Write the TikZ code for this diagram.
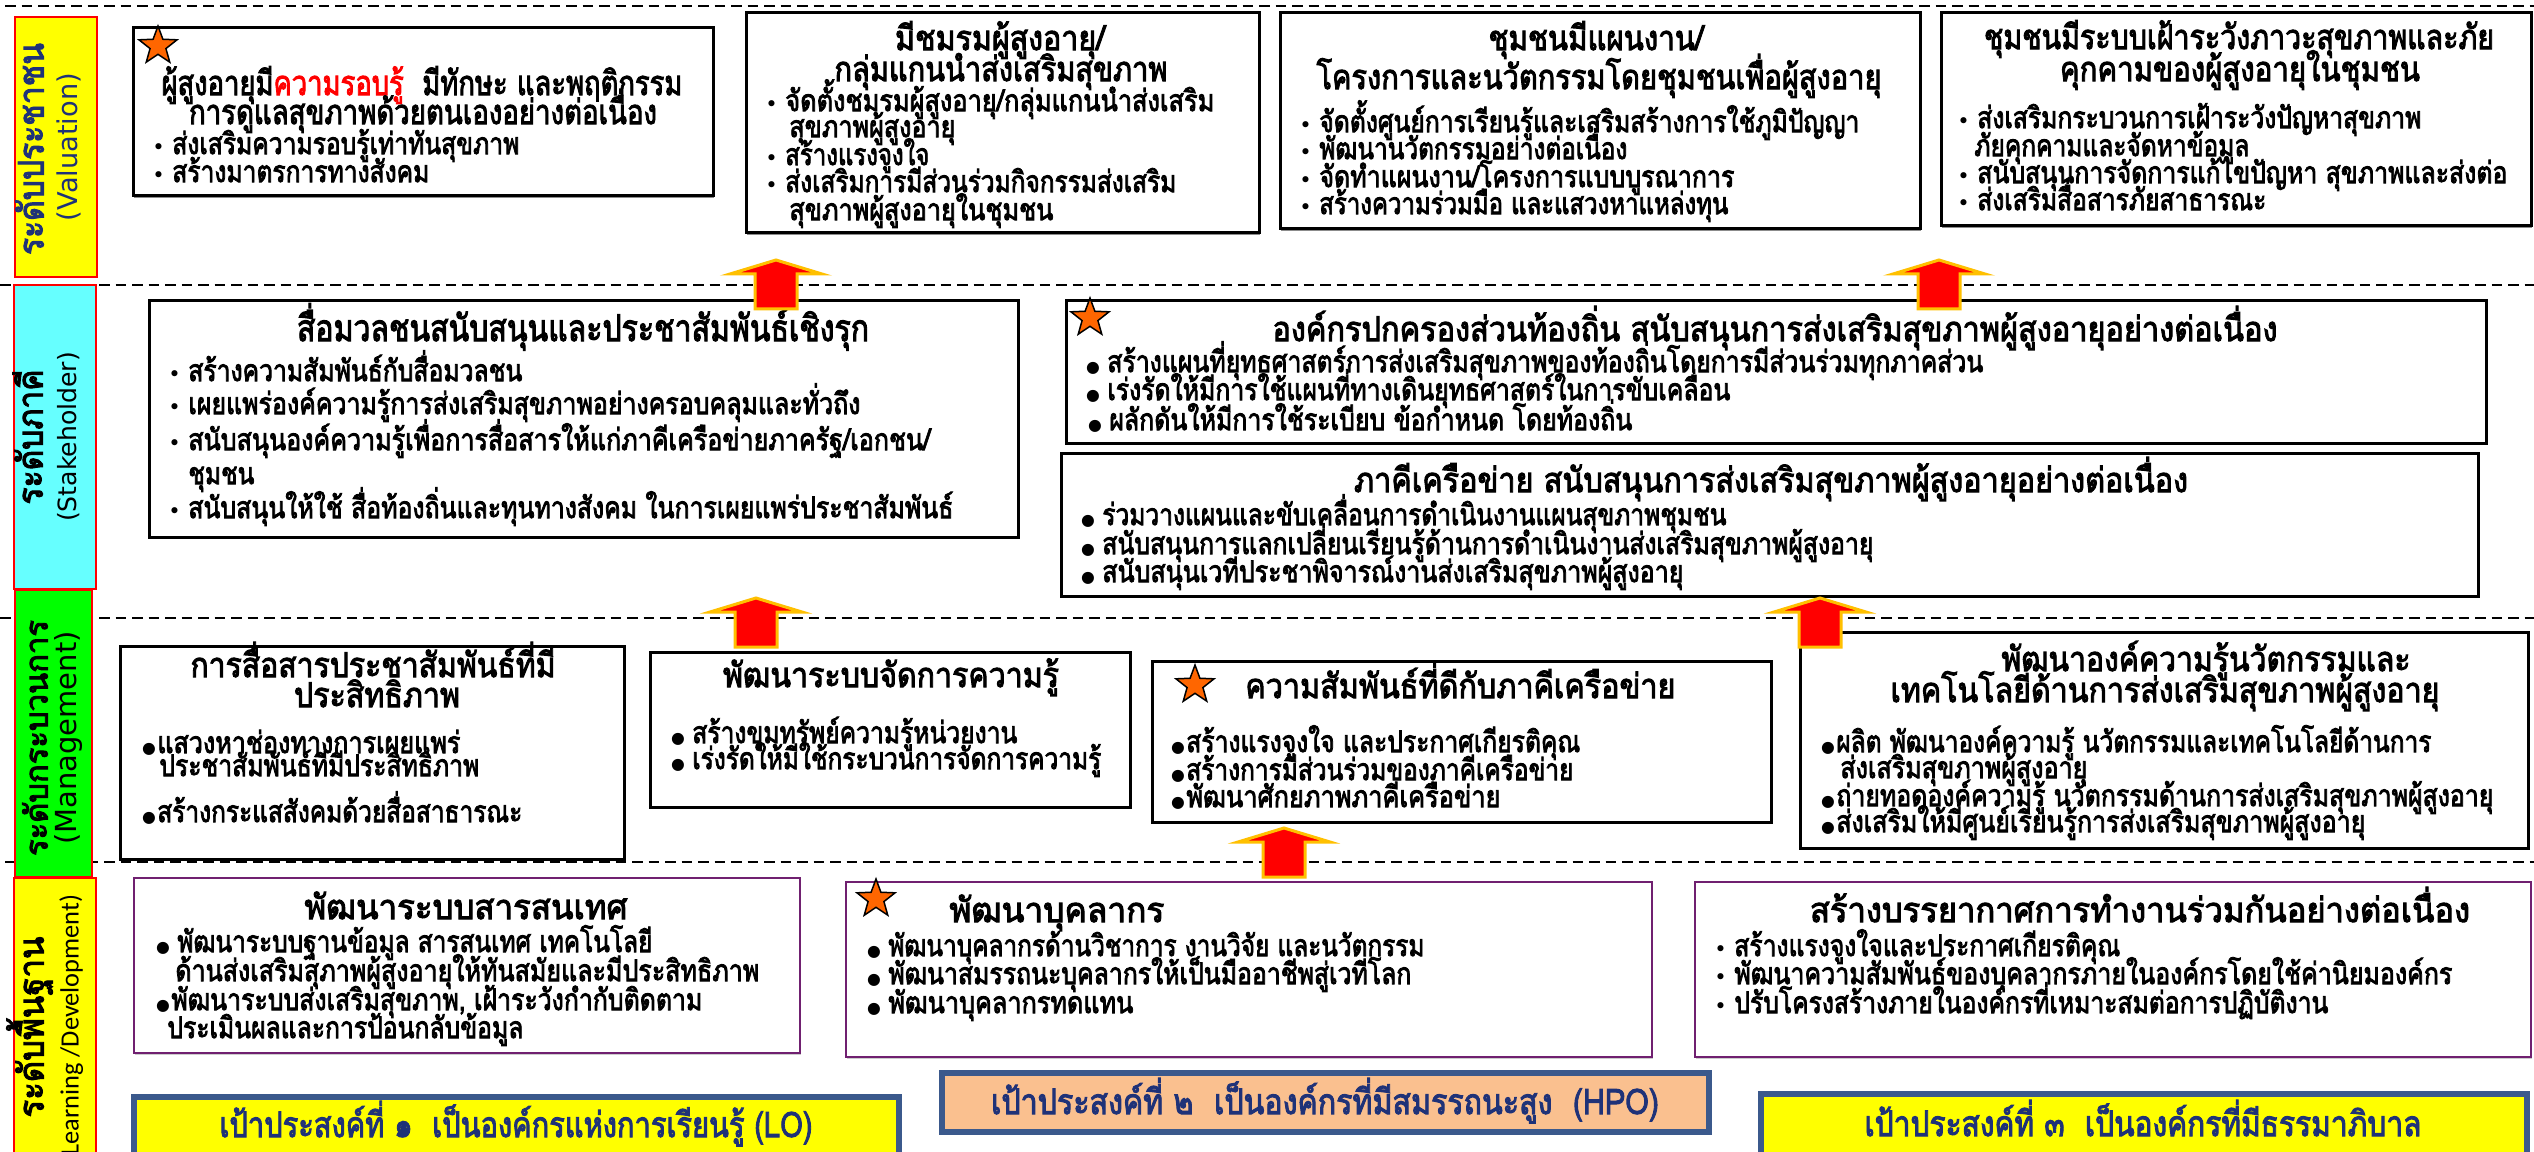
\documentclass[tikz,border=0pt]{standalone}
\usepackage{fontspec}
\usepackage{graphicx}
\setmainfont{Loma}[Script=Thai]
\newfontfamily\thB{Loma}[Script=Thai,FakeBold=3]
\newfontfamily\dvs{DejaVu Sans}
\newfontfamily\crl{Carlito}
\usetikzlibrary{shapes.geometric,fit,shadows}
\definecolor{navy}{RGB}{31,50,120}
\definecolor{bandyel}{RGB}{255,255,0}
\definecolor{bandcyan}{RGB}{102,255,255}
\definecolor{bandgreen}{RGB}{0,255,0}
\definecolor{purp}{RGB}{112,32,112}
\definecolor{goalb}{RGB}{59,89,140}
\definecolor{peach}{RGB}{250,192,143}
\definecolor{gold}{RGB}{255,192,0}
\definecolor{starorange}{RGB}{255,102,0}
\newdimen\pxu \pxu=0.2mm
\newcounter{lnc}
\newcommand\blt{\llap{{\dvs\fontsize{12}{12}\selectfont •}\hspace{1.5mm}}}
\newcommand\bbl{\llap{{\dvs\fontsize{9}{9}\selectfont ●}\hspace{0.3mm}}}
\newcommand\bblw{\llap{{\dvs\fontsize{9}{9}\selectfont ●}\hspace{1.5mm}}}
% plain line / line with bullet kinds
\newcommand\TL[5]{\stepcounter{lnc}\node[#1] (ln\arabic{lnc}) at (#2,#3) {\resizebox{#4\pxu}{\height}{#5}};}
\newcommand\TB[5]{\stepcounter{lnc}\node[#1] (ln\arabic{lnc}) at (#2,#3) {\blt\resizebox{#4\pxu}{\height}{#5}};}
\newcommand\TC[5]{\stepcounter{lnc}\node[#1] (ln\arabic{lnc}) at (#2,#3) {\bbl\resizebox{#4\pxu}{\height}{#5}};}
\newcommand\TD[5]{\stepcounter{lnc}\node[#1] (ln\arabic{lnc}) at (#2,#3) {\bblw\resizebox{#4\pxu}{\height}{#5}};}
\newcommand\uparr[3]{\draw[uparrow] (#1-21,#3) -- (#1-21,#2+14) -- (#1-46,#2+14) -- (#1,#2) -- (#1+46,#2+14) -- (#1+21,#2+14) -- (#1+21,#3) -- cycle;}
\begin{document}
\begin{tikzpicture}[x=0.2mm,y=-0.2mm,
  dsh/.style={draw=black,line width=0.5mm,dash pattern=on 2.1mm off 1.2mm},
  band/.style={draw=red,line width=0.4mm,inner sep=0pt},
  blk/.style={draw=black,line width=0.6mm,fill=white,inner sep=0pt,
    drop shadow={shadow xshift=0.25mm,shadow yshift=-0.45mm,fill=black!45,opacity=1}},
  prp/.style={draw=purp,line width=0.45mm,fill=white,inner sep=0pt,
    drop shadow={shadow xshift=0.2mm,shadow yshift=-0.3mm,fill=black!20,opacity=1}},
  goal/.style={draw=goalb,line width=1.1mm,inner sep=0pt},
  uparrow/.style={fill=red,draw=gold,line width=0.6mm,line join=miter},
  starsh/.style={star,star points=5,star point ratio=2.4,fill=starorange,draw=black,line width=0.3mm,minimum size=8mm,inner sep=0pt},
  ttl/.style={anchor=mid,inner sep=0pt,yshift=-0.9mm,font=\thB\fontsize{19.5}{21}\selectfont},
  ttlw/.style={ttl,anchor=mid west},
  ttlE/.style={ttl,font=\thB\fontsize{21}{23}\selectfont},
  bdy/.style={anchor=mid west,inner sep=0pt,yshift=-0.9mm,font=\thB\fontsize{17}{19}\selectfont},
  gtx/.style={anchor=mid,inner sep=0pt,yshift=-0.9mm,text=navy,font=\thB\fontsize{20}{22}\selectfont},
  bthai/.style={rotate=90,anchor=mid,inner sep=0pt,font=\thB\fontsize{20}{20}\selectfont},
  beng/.style={rotate=90,anchor=mid,inner sep=0pt},
]
\useasboundingbox (0,0) rectangle (2534,1152);
\clip (0,0) rectangle (2534,1152);
\fill[white] (0,0) rectangle (2534,1152);

% dashed separators
\draw[dsh] (5,6) -- (2534,6);
\draw[dsh] (0,285) -- (2534,285);
\draw[dsh] (0,618) -- (2534,618);
\draw[dsh] (5,862) -- (2534,862);

% level bands
\node[band,fill=bandyel,fit={(15,17)(97,277)}] (band1) {};
\node[bthai,text=navy] (band1t) at (39,149) {\resizebox{212\pxu}{\height}{ระดับประชาชน}};
\node[beng,text=navy,font=\dvs\fontsize{15.5}{16}\selectfont] (band1e) at (73,147) {(Valuation)};

\node[band,fill=bandcyan,fit={(14,285)(96,589)}] (band2) {};
\node[bthai] (band2t) at (38,437) {\resizebox{135\pxu}{\height}{ระดับภาคี}};
\node[beng,font=\dvs\fontsize{14.3}{15}\selectfont] (band2e) at (72,437) {(Stakeholder)};

\node[band,fill=bandgreen,fit={(15,590)(92,877)}] (band3) {};
\node[bthai,font=\thB\fontsize{18}{18}\selectfont] (band3t) at (43,738) {\resizebox{236\pxu}{\height}{ระดับกระบวนการ}};
\node[beng,font=\dvs\fontsize{16.5}{17}\selectfont] (band3e) at (72,738) {(Management)};

\node[band,fill=bandyel,fit={(14,878)(96,1160)}] (band4) {};
\node[bthai] (band4t) at (39,1027) {\resizebox{181\pxu}{\height}{ระดับพื้นฐาน}};
\node[beng,font=\crl\fontsize{15}{16}\selectfont] (band4e) at (74,1032) {( Learning /Development)};

% ===== Row 1 : Valuation =====
\node[blk,fit={(133,28)(713,196)}] (boxA) {};
\node[starsh] (starA) at (158,46) {};
\TL{ttl}{422}{86}{521}{ผู้สูงอายุมี\textcolor{red}{ความรอบรู้}\ \ มีทักษะ และพฤติกรรม}
\TL{ttl}{423}{115}{468}{การดูแลสุขภาพด้วยตนเองอย่างต่อเนื่อง}
\TB{bdy}{172}{145}{347}{ส่งเสริมความรอบรู้เท่าทันสุขภาพ}
\TB{bdy}{172}{173}{257}{สร้างมาตรการทางสังคม}

\node[blk,fit={(746,13)(1259,233)}] (boxB) {};
\TL{ttl}{1000}{41}{210}{มีชมรมผู้สูงอายุ/}
\TL{ttl}{1001}{72}{333}{กลุ่มแกนนำส่งเสริมสุขภาพ}
\TB{bdy}{785}{102}{429}{จัดตั้งชมรมผู้สูงอายุ/กลุ่มแกนนำส่งเสริม}
\TL{bdy}{789}{128}{166}{สุขภาพผู้สูงอายุ}
\TB{bdy}{785}{156}{144}{สร้างแรงจูงใจ}
\TB{bdy}{785}{183}{391}{ส่งเสริมการมีส่วนร่วมกิจกรรมส่งเสริม}
\TL{bdy}{789}{211}{264}{สุขภาพผู้สูงอายุในชุมชน}

\node[blk,fit={(1280,13)(1920,229)}] (boxC) {};
\TL{ttl}{1596}{41}{215}{ชุมชนมีแผนงาน/}
\TL{ttl}{1599}{80}{565}{โครงการและนวัตกรรมโดยชุมชนเพื่อผู้สูงอายุ}
\TB{bdy}{1319}{123}{540}{จัดตั้งศูนย์การเรียนรู้และเสริมสร้างการใช้ภูมิปัญญา}
\TB{bdy}{1319}{150}{308}{พัฒนานวัตกรรมอย่างต่อเนื่อง}
\TB{bdy}{1319}{178}{415}{จัดทำแผนงาน/โครงการแบบบูรณาการ}
\TB{bdy}{1319}{205}{409}{สร้างความร่วมมือ และแสวงหาแหล่งทุน}

\node[blk,fit={(1941,13)(2531,226)}] (boxD) {};
\TL{ttl}{2239}{40}{510}{ชุมชนมีระบบเฝ้าระวังภาวะสุขภาพและภัย}
\TL{ttl}{2240}{72}{360}{คุกคามของผู้สูงอายุในชุมชน}
\TB{bdy}{1977}{119}{444}{ส่งเสริมกระบวนการเฝ้าระวังปัญหาสุขภาพ}
\TL{bdy}{1974}{147}{275}{ภัยคุกคามและจัดหาข้อมูล}
\TB{bdy}{1977}{174}{530}{สนับสนุนการจัดการแก้ไขปัญหา สุขภาพและส่งต่อ}
\TB{bdy}{1977}{201}{289}{ส่งเสริมสื่อสารภัยสาธารณะ}

% ===== Row 2 : Stakeholder =====
\node[blk,fit={(149,301)(1018,537)}] (boxE) {};
\TL{ttlE}{583}{332}{572}{สื่อมวลชนสนับสนุนและประชาสัมพันธ์เชิงรุก}
\TB{bdy}{188}{372}{334}{สร้างความสัมพันธ์กับสื่อมวลชน}
\TB{bdy}{188}{405}{672}{เผยแพร่องค์ความรู้การส่งเสริมสุขภาพอย่างครอบคลุมและทั่วถึง}
\TB{bdy}{188}{441}{742}{สนับสนุนองค์ความรู้เพื่อการสื่อสารให้แก่ภาคีเครือข่ายภาครัฐ/เอกชน/}
\TL{bdy}{188}{475}{66}{ชุมชน}
\TB{bdy}{188}{509}{765}{สนับสนุนให้ใช้ สื่อท้องถิ่นและทุนทางสังคม ในการเผยแพร่ประชาสัมพันธ์}

\node[blk,fit={(1066,301)(2486,443)}] (boxF) {};
\node[starsh] (starF) at (1090,318) {};
\TL{ttl}{1775}{332}{1005}{องค์กรปกครองส่วนท้องถิ่น สนับสนุนการส่งเสริมสุขภาพผู้สูงอายุอย่างต่อเนื่อง}
\TD{bdy}{1107}{363}{876}{สร้างแผนที่ยุทธศาสตร์การส่งเสริมสุขภาพของท้องถิ่นโดยการมีส่วนร่วมทุกภาคส่วน}
\TD{bdy}{1107}{391}{623}{เร่งรัดให้มีการใช้แผนที่ทางเดินยุทธศาสตร์ในการขับเคลื่อน}
\TD{bdy}{1109}{421}{523}{ผลักดันให้มีการใช้ระเบียบ ข้อกำหนด โดยท้องถิ่น}

\node[blk,fit={(1061,453)(2478,596)}] (boxG) {};
\TL{ttl}{1771}{483}{834}{ภาคีเครือข่าย สนับสนุนการส่งเสริมสุขภาพผู้สูงอายุอย่างต่อเนื่อง}
\TD{bdy}{1102}{516}{624}{ร่วมวางแผนและขับเคลื่อนการดำเนินงานแผนสุขภาพชุมชน}
\TD{bdy}{1102}{545}{771}{สนับสนุนการแลกเปลี่ยนเรียนรู้ด้านการดำเนินงานส่งเสริมสุขภาพผู้สูงอายุ}
\TD{bdy}{1102}{573}{581}{สนับสนุนเวทีประชาพิจารณ์งานส่งเสริมสุขภาพผู้สูงอายุ}

% ===== Row 3 : Management =====
\node[blk,fit={(120,646)(624,859)}] (boxH) {};
\TL{ttl}{373}{668}{365}{การสื่อสารประชาสัมพันธ์ที่มี}
\TL{ttl}{377}{698}{166}{ประสิทธิภาพ}
\TC{bdy}{157}{744}{303}{แสวงหาช่องทางการเผยแพร่}
\TL{bdy}{159}{767}{320}{ประชาสัมพันธ์ที่มีประสิทธิภาพ}
\TC{bdy}{157}{813}{365}{สร้างกระแสสังคมด้วยสื่อสาธารณะ}

\node[blk,fit={(650,652)(1130,807)}] (boxI) {};
\TL{ttl}{891}{678}{336}{พัฒนาระบบจัดการความรู้}
\TD{bdy}{692}{734}{325}{สร้างขุมทรัพย์ความรู้หน่วยงาน}
\TD{bdy}{692}{760}{409}{เร่งรัดให้มีใช้กระบวนการจัดการความรู้}

\node[blk,fit={(1152,661)(1771,822)}] (boxJ) {};
\node[starsh] (starJ) at (1195,685) {};
\TL{ttlw}{1245}{689}{430}{ความสัมพันธ์ที่ดีกับภาคีเครือข่าย}
\TC{bdy}{1186}{743}{394}{สร้างแรงจูงใจ และประกาศเกียรติคุณ}
\TC{bdy}{1186}{771}{387}{สร้างการมีส่วนร่วมของภาคีเครือข่าย}
\TC{bdy}{1186}{798}{314}{พัฒนาศักยภาพภาคีเครือข่าย}

\node[blk,fit={(1800,632)(2528,848)}] (boxK) {};
\TL{ttl}{2206}{662}{409}{พัฒนาองค์ความรู้นวัตกรรมและ}
\TL{ttl}{2165}{693}{549}{เทคโนโลยีด้านการส่งเสริมสุขภาพผู้สูงอายุ}
\TC{bdy}{1836}{743}{595}{ผลิต พัฒนาองค์ความรู้ นวัตกรรมและเทคโนโลยีด้านการ}
\TL{bdy}{1840}{769}{247}{ส่งเสริมสุขภาพผู้สูงอายุ}
\TC{bdy}{1836}{797}{657}{ถ่ายทอดองค์ความรู้ นวัตกรรมด้านการส่งเสริมสุขภาพผู้สูงอายุ}
\TC{bdy}{1836}{823}{529}{ส่งเสริมให้มีศูนย์เรียนรู้การส่งเสริมสุขภาพผู้สูงอายุ}

% ===== Row 4 : Learning / Development =====
\node[prp,fit={(134,878)(800,1053)}] (boxL) {};
\TL{ttl}{466}{910}{323}{พัฒนาระบบสารสนเทศ}
\TD{bdy}{177}{943}{475}{พัฒนาระบบฐานข้อมูล สารสนเทศ เทคโนโลยี}
\TL{bdy}{175}{972}{584}{ด้านส่งเสริมสุภาพผู้สูงอายุให้ทันสมัยและมีประสิทธิภาพ}
\TC{bdy}{171}{1001}{531}{พัฒนาระบบส่งเสริมสุขภาพ, เฝ้าระวังกำกับติดตาม}
\TL{bdy}{167}{1029}{356}{ประเมินผลและการป้อนกลับข้อมูล}

\node[prp,fit={(846,882)(1652,1057)}] (boxM) {};
\node[starsh] (starM) at (876,899) {};
\TL{ttlw}{949}{913}{215}{พัฒนาบุคลากร}
\TD{bdy}{888}{947}{536}{พัฒนาบุคลากรด้านวิชาการ งานวิจัย และนวัตกรรม}
\TD{bdy}{888}{975}{523}{พัฒนาสมรรถนะบุคลากรให้เป็นมืออาชีพสู่เวทีโลก}
\TD{bdy}{888}{1004}{245}{พัฒนาบุคลากรทดแทน}

\node[prp,fit={(1695,882)(2531,1057)}] (boxN) {};
\TL{ttl}{2140}{913}{660}{สร้างบรรยากาศการทำงานร่วมกันอย่างต่อเนื่อง}
\TB{bdy}{1734}{947}{386}{สร้างแรงจูงใจและประกาศเกียรติคุณ}
\TB{bdy}{1734}{975}{718}{พัฒนาความสัมพันธ์ของบุคลากรภายในองค์กรโดยใช้ค่านิยมองค์กร}
\TB{bdy}{1734}{1004}{594}{ปรับโครงสร้างภายในองค์กรที่เหมาะสมต่อการปฏิบัติงาน}

% goals
\node[goal,fill=bandyel,fit={(134,1097)(899,1170)}] (goal1) {};
\TL{gtx}{516}{1128}{593}{เป้าประสงค์ที่ ๑\ \ เป็นองค์กรแห่งการเรียนรู้ (LO)}
\node[goal,fill=peach,fit={(942,1073)(1709,1132)}] (goal2) {};
\TL{gtx}{1325}{1105}{668}{เป้าประสงค์ที่ ๒\ \ เป็นองค์กรที่มีสมรรถนะสูง\ \ (HPO)}
\node[goal,fill=bandyel,fit={(1761,1094)(2527,1170)}] (goal3) {};
\TL{gtx}{2143}{1127}{557}{เป้าประสงค์ที่ ๓\ \ เป็นองค์กรที่มีธรรมาภิบาล}

% upward block arrows
\uparr{776}{260}{309}
\uparr{1939}{260}{309}
\uparr{756}{598}{647}
\uparr{1820}{598}{647}
\uparr{1284}{828}{877}
\end{tikzpicture}
\end{document}
